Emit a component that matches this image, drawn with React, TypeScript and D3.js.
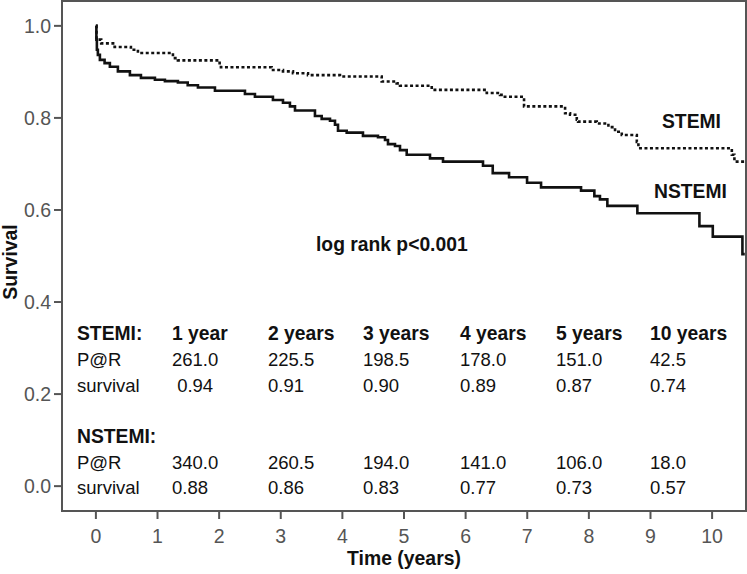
import React from "react";
import * as d3 from "d3";

const stemiTime = [0, 0.01, 0.086, 0.304, 0.568, 0.682, 1.25, 1.331, 2.008, 2.029, 2.852, 3.036, 3.198, 3.442, 3.961, 4.638, 4.881, 4.935, 5.45, 6.343, 6.558, 6.607, 6.948, 7.614, 7.695, 7.804, 7.825, 8.128, 8.317, 8.425, 8.534, 8.778, 8.804, 10.32, 10.362, 10.55];
const stemiSurv = [1.0, 0.97, 0.962, 0.954, 0.948, 0.941, 0.93, 0.925, 0.915, 0.91, 0.904, 0.901, 0.897, 0.893, 0.89, 0.879, 0.875, 0.87, 0.861, 0.854, 0.85, 0.846, 0.825, 0.81, 0.807, 0.796, 0.792, 0.788, 0.78, 0.77, 0.763, 0.748, 0.734, 0.72, 0.705, 0.705];

const nstemiTime = [0, 0.008, 0.016, 0.032, 0.065, 0.141, 0.227, 0.357, 0.552, 0.731, 0.958, 1.12, 1.331, 1.49, 1.656, 1.932, 2.419, 2.581, 2.873, 3.036, 3.149, 3.231, 3.555, 3.664, 3.799, 3.88, 3.929, 4.07, 4.334, 4.578, 4.692, 4.74, 4.854, 4.935, 5.044, 5.422, 5.633, 6.282, 6.44, 6.705, 6.997, 7.224, 7.873, 8.089, 8.18, 8.3, 8.787, 9.794, 10.011, 10.492, 10.53];
const nstemiSurv = [1.0, 0.97, 0.948, 0.937, 0.926, 0.919, 0.911, 0.901, 0.893, 0.887, 0.883, 0.88, 0.877, 0.871, 0.866, 0.859, 0.852, 0.846, 0.839, 0.833, 0.825, 0.816, 0.804, 0.798, 0.794, 0.785, 0.772, 0.768, 0.761, 0.758, 0.752, 0.743, 0.739, 0.73, 0.72, 0.712, 0.705, 0.696, 0.68, 0.671, 0.659, 0.649, 0.642, 0.63, 0.623, 0.609, 0.593, 0.565, 0.542, 0.504, 0.504];

const xTicks = [0, 1, 2, 3, 4, 5, 6, 7, 8, 9, 10];
const yTicks = [0.0, 0.2, 0.4, 0.6, 0.8, 1.0];

const tableHeader = ["STEMI:", "1 year", "2 years", "3 years", "4 years", "5 years", "10 years"];
const stemiPaR = ["P@R", "261.0", "225.5", "198.5", "178.0", "151.0", "42.5"];
const stemiSurvRow = ["survival", "\u00a00.94", "0.91", "0.90", "0.89", "0.87", "0.74"];
const nstemiHeader = ["NSTEMI:"];
const nstemiPaR = ["P@R", "340.0", "260.5", "194.0", "141.0", "106.0", "18.0"];
const nstemiSurvRow = ["survival", "0.88", "0.86", "0.83", "0.77", "0.73", "0.57"];

const W = 747;
const H = 574;
const L = 62, R = 746, T = 1, B = 511;

export default function App() {
  const x = d3.scaleLinear().domain([-0.55, 10.55]).range([L, R]);
  const y = d3.scaleLinear().domain([-0.054, 1.054]).range([B, T]);
  const line = d3
    .line<[number, number]>()
    .x((d) => x(d[0]))
    .y((d) => y(d[1]))
    .curve(d3.curveStepAfter);
  const stemi = stemiTime.map((t, i) => [t, stemiSurv[i]] as [number, number]);
  const nstemi = nstemiTime.map((t, i) => [t, nstemiSurv[i]] as [number, number]);

  const colX = [77, 172, 268, 363, 460, 556, 650];
  const font = "Arial, 'Liberation Sans', sans-serif";

  const row = (items: string[], yy: number, bold: boolean) =>
    items.map((s, i) => (
      <text key={i} x={colX[i]} y={yy} fontSize={bold ? 19.3 : 18.5} fontWeight={bold ? "bold" : "normal"} fill="#111" style={{ whiteSpace: "pre" }}>
        {s}
      </text>
    ));

  return (
    <svg width={W} height={H} style={{ position: "absolute", left: 0, top: 0, background: "#fff" }} fontFamily={font}>
      <rect x={0} y={0} width={W} height={H} fill="#fff" />
      <defs>
        <clipPath id="plotclip">
          <rect x={L} y={T} width={R - L} height={B - T} />
        </clipPath>
      </defs>
      <g clipPath="url(#plotclip)">
        <path d={line(stemi) || ""} fill="none" stroke="#111" strokeWidth={2.6} strokeDasharray="3,2.5" />
        <path d={line(nstemi) || ""} fill="none" stroke="#111" strokeWidth={2.6} />
      </g>
      <rect x={L} y={T} width={R - L} height={B - T} fill="none" stroke="#555" strokeWidth={2} />
      {yTicks.map((v) => (
        <g key={v}>
          <line x1={L - 8} x2={L} y1={y(v)} y2={y(v)} stroke="#555" strokeWidth={2} />
          <text x={L - 11} y={y(v)} dy="0.36em" textAnchor="end" fontSize={19.5} fill="#555">
            {v.toFixed(1)}
          </text>
        </g>
      ))}
      {xTicks.map((v) => (
        <g key={v}>
          <line x1={x(v)} x2={x(v)} y1={B} y2={B + 8} stroke="#555" strokeWidth={2} />
          <text x={x(v)} y={543} textAnchor="middle" fontSize={19.5} fill="#555">
            {v}
          </text>
        </g>
      ))}
      <text x={404} y={565} textAnchor="middle" fontSize={19.4} fontWeight="bold" fill="#111">
        Time (years)
      </text>
      <text transform={`translate(17,${262}) rotate(-90)`} textAnchor="middle" fontSize={19.4} fontWeight="bold" fill="#111">
        Survival
      </text>
      <text x={662} y={128} fontSize={19.3} fontWeight="bold" fill="#111">STEMI</text>
      <text x={654} y={198} fontSize={19.3} fontWeight="bold" fill="#111">NSTEMI</text>
      <text x={316} y={251} fontSize={19.3} fontWeight="bold" fill="#111">log rank p&lt;0.001</text>
      {row(tableHeader, 340, true)}
      {row(stemiPaR, 366, false)}
      {row(stemiSurvRow, 392, false)}
      {row(nstemiHeader, 443, true)}
      {row(nstemiPaR, 469, false)}
      {row(nstemiSurvRow, 494, false)}
    </svg>
  );
}
